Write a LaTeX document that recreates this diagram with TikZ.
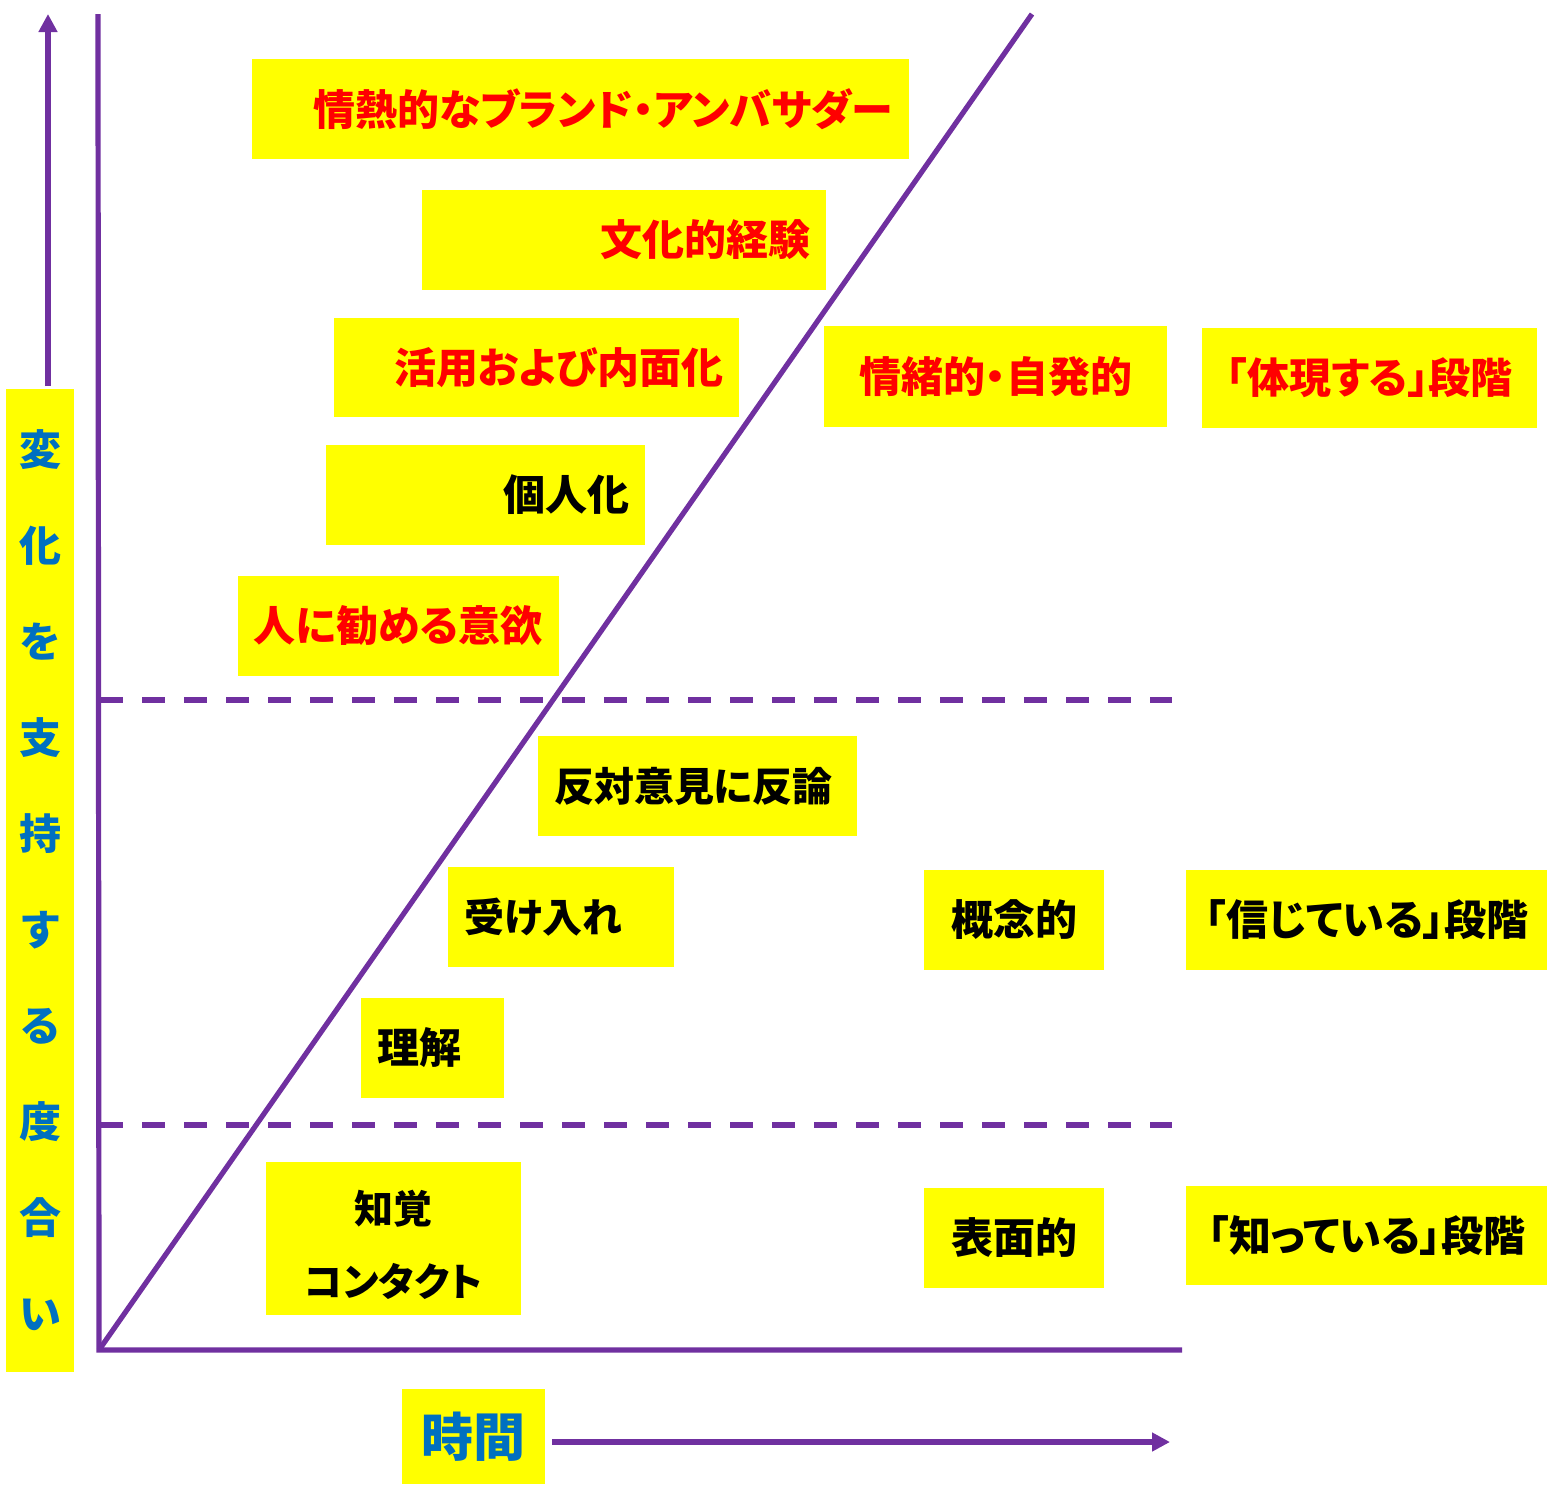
\documentclass[tikz,border=0pt]{standalone}
\usepackage{fontspec}
\newfontfamily\cjk[RawFeature=+palt]{Noto Sans CJK JP}
\usetikzlibrary{arrows.meta}
\definecolor{axispurple}{HTML}{7030A0}
\definecolor{labelblue}{HTML}{0070C0}
\definecolor{boxyellow}{HTML}{FFFF00}
\definecolor{textred}{HTML}{FF0000}
\begin{document}
\begin{tikzpicture}[x=0.5pt,y=-0.5pt,
  box/.style={fill=boxyellow, inner xsep=8pt, inner ysep=0pt, font=\cjk\bfseries\fontsize{21}{25}\selectfont},
  redtext/.style={text=textred},
  blacktext/.style={text=black},
  bluetext/.style={text=labelblue},
  axis/.style={draw=axispurple, line width=2.6pt},
  dashline/.style={draw=axispurple, line width=2.6pt, dash pattern=on 11.5pt off 9.5pt},
  arrowline/.style={draw=axispurple, line width=2.6pt, -{Triangle[width=9pt,length=9pt]}}
]
\useasboundingbox (0,0) rectangle (1547,1484);

% axes and guides
\coordinate (origin) at (99,1350);
\coordinate (ytop) at (98,14);
\coordinate (xend) at (1182,1350);
\coordinate (diagend) at (1032,14);
\coordinate (d1s) at (100,700);
\coordinate (d1e) at (1172,700);
\coordinate (d2s) at (100,1125);
\coordinate (d2e) at (1172,1125);
\draw[dashline] (d1s) -- (d1e);
\draw[dashline] (d2s) -- (d2e);
\draw[axis] (ytop) -- (origin) -- (xend);
\draw[axis] (origin) -- (diagend);

% boxes
\node[box, redtext, minimum width=328.5pt, minimum height=50pt, text width=312.5pt, align=right] (b1) at (580.5,109) {情熱的なブランド・アンバサダー};
\node[box, redtext, minimum width=202pt, minimum height=50pt, text width=186pt, align=right] (b2) at (624,240) {文化的経験};
\node[box, redtext, minimum width=202.5pt, minimum height=49.5pt, text width=186.5pt, align=right] (b3) at (536.5,367.5) {活用および内面化};
\node[box, redtext, minimum width=171.5pt, minimum height=50.5pt] (b4) at (995.5,376.5) {情緒的・自発的};
\node[box, redtext, minimum width=167.5pt, minimum height=50pt] (b5) at (1369.5,378) {「体現する」段階};
\node[box, blacktext, minimum width=159.5pt, minimum height=50pt, text width=143.5pt, align=right] (b6) at (485.5,495) {個人化};
\node[box, redtext, minimum width=160pt, minimum height=50pt] (b7) at (398,626) {人に勧める意欲};
\node[box, blacktext, minimum width=159.5pt, minimum height=50pt, text width=143.5pt, align=left, font=\cjk\bfseries\fontsize{20}{24}\selectfont] (b8) at (697.5,786) {反対意見に反論};
\node[box, blacktext, minimum width=113pt, minimum height=50pt, text width=97pt, align=left, font=\cjk\bfseries\fontsize{20}{24}\selectfont] (b9) at (561,917) {受け入れ};
\node[box, blacktext, minimum width=90pt, minimum height=50pt] (b10) at (1014,920) {概念的};
\node[box, blacktext, minimum width=180.5pt, minimum height=50pt] (b11) at (1366.5,920) {「信じている」段階};
\node[box, blacktext, minimum width=71.5pt, minimum height=50pt, text width=55.5pt, align=left] (b12) at (432.5,1048) {理解};
\node[box, blacktext, minimum width=127.5pt, minimum height=76.5pt, align=center, font=\cjk\bfseries\fontsize{19.5}{36.5}\selectfont] (b13) at (393.5,1238.5) {\rule{0pt}{23pt}知覚\\コンタクト};
\node[box, blacktext, minimum width=90pt, minimum height=50pt] (b14) at (1014,1238) {表面的};
\node[box, blacktext, minimum width=180.5pt, minimum height=49.5pt] (b15) at (1366.5,1235.5) {「知っている」段階};
\node[box, bluetext, minimum width=71.5pt, minimum height=47.5pt, font=\cjk\bfseries\fontsize{26}{30}\selectfont] (time) at (473.5,1436.5) {\raisebox{-4pt}{時間}};
\node[box, bluetext, minimum width=34pt, minimum height=491.5pt, inner xsep=0pt, align=center, font=\cjk\bfseries\fontsize{21}{48}\selectfont] (ylabel) at (40,880.5) {変\\化\\を\\支\\持\\す\\る\\度\\合\\い};

% arrows
\coordinate (ytip) at (48,14);
\coordinate (ybase) at (48,386);
\coordinate (xbase) at (552,1442);
\coordinate (xtip) at (1170,1442);
\draw[arrowline] (ybase) -- (ytip);
\draw[arrowline] (xbase) -- (xtip);
\end{tikzpicture}
\end{document}
